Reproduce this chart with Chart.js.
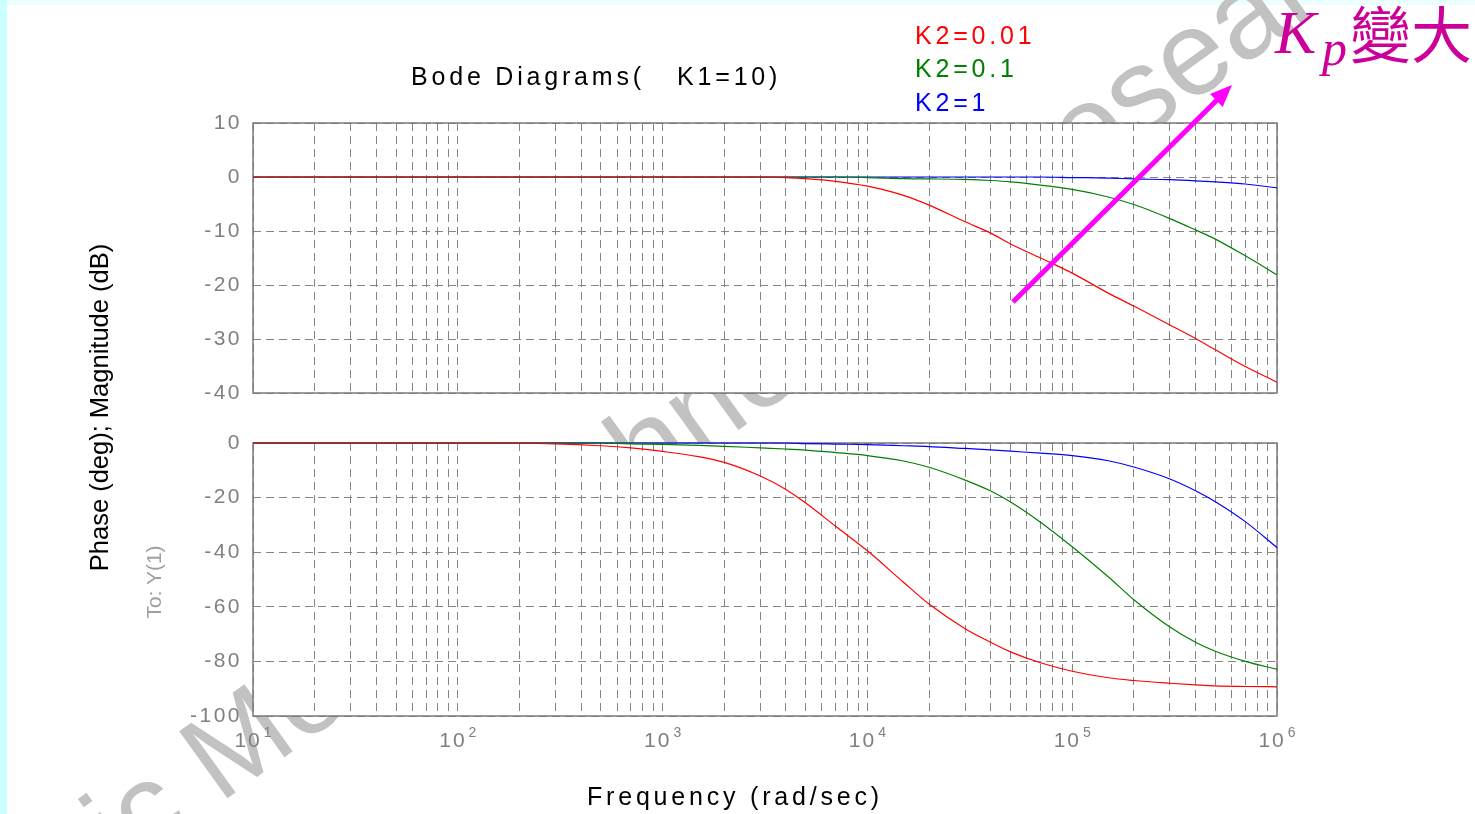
<!DOCTYPE html>
<html><head><meta charset="utf-8">
<script src="https://cdn.jsdelivr.net/npm/chart.js@4.4.0/dist/chart.umd.min.js"></script>
<style>
html,body{margin:0;padding:0;background:#fff;}
#wrap{position:relative;width:1475px;height:814px;overflow:hidden;background:#fff;}
#leftStrip{position:absolute;left:0;top:0;width:7px;height:814px;background:#ccffff;}
#topStrip{position:absolute;left:0;top:0;width:1475px;height:5px;background:#ebffff;}
svg,canvas{position:absolute;}
</style></head><body>
<div id="wrap">
  <div id="topStrip"></div><div id="leftStrip"></div>
  <svg id="wm" width="1475" height="814" style="left:0;top:0">
    <text id="wmText" font-family="Liberation Sans, Arial, sans-serif" font-size="120" fill="#c2c2c2">Electric Motor Technology Research</text>
  </svg>
  <canvas id="mag" width="1475" height="430" style="left:0;top:0"></canvas>
  <canvas id="phase" width="1475" height="404" style="left:0;top:410px"></canvas>
  <svg id="ann" width="1475" height="814" style="left:0;top:0">
    <g font-family="Liberation Sans, Arial, sans-serif" font-size="25" letter-spacing="3.8">
      <text x="411" y="85" fill="#000" xml:space="preserve">Bode Diagrams(   K1=10)</text>
      <text x="915" y="43.5" fill="#ff0000">K2=0.01</text>
      <text x="915" y="77" fill="#008000">K2=0.1</text>
      <text x="915" y="111" fill="#0000ff">K2=1</text>
      <text x="587" y="805" fill="#000">Frequency (rad/sec)</text>
    </g>
    <text x="107.5" y="407.5" transform="rotate(-90 107.5 407.5)" text-anchor="middle" font-family="Liberation Sans, Arial, sans-serif" font-size="25.5" fill="#000">Phase (deg); Magnitude (dB)</text>
    <text x="160.5" y="582" transform="rotate(-90 160.5 582)" text-anchor="middle" font-family="Liberation Sans, Arial, sans-serif" font-size="21" fill="#a0a0a0">To: Y(1)</text>
    <line x1="1013" y1="302" x2="1218" y2="99" stroke="#ff00ff" stroke-width="5"/>
    <polygon points="1232,85 1222.7,106.9 1210.1,94.1" fill="#ff00ff"/>
    <text x="1275" y="53" font-family="Liberation Serif, Times New Roman, serif" font-style="italic" font-size="62" fill="#cc0099">K</text>
    <text x="1322" y="65" font-family="Liberation Serif, Times New Roman, serif" font-style="italic" font-size="50" fill="#cc0099">p</text>
    <text x="1350" y="58" font-family="Noto Sans CJK TC, Noto Sans CJK SC, sans-serif" font-size="61" fill="#cc0099">變大</text>
  </svg>
</div>
<script>
// ---- data ----
const freqs      = [10, 100, 300, 500, 700, 1000, 1500, 2000, 3000, 4000, 5000, 7000, 1e4, 1.5e4, 2e4, 3e4, 4e4, 5e4, 7e4, 1e5, 1.5e5, 2e5, 3e5, 4e5, 5e5, 7e5, 1e6];
const magK2_001  = [0, 0, 0, 0, 0, 0, 0, 0, 0, -0.1, -0.3, -0.8, -1.7, -3.4, -5.2, -8.3, -10.4, -12.4, -15.0, -17.8, -21.5, -23.9, -27.4, -29.9, -32.0, -35.1, -38.0];
const magK2_01   = [0, 0, 0, 0, 0, 0, 0, 0, 0, 0, 0, 0, -0.1, -0.3, -0.35, -0.45, -0.65, -0.9, -1.5, -2.3, -3.7, -5.1, -7.7, -9.8, -11.5, -14.6, -18.1];
const magK2_1    = [0, 0, 0, 0, 0, 0, 0, 0, 0, 0, 0, 0, 0, 0, 0, 0, 0, 0, 0, -0.1, -0.2, -0.35, -0.5, -0.7, -0.9, -1.3, -2.0];
const phK2_001   = [0, 0, -0.3, -1.0, -1.8, -3.1, -5.0, -7.1, -12.1, -17.0, -22.0, -30.5, -39.5, -51.0, -59.0, -68.0, -73.0, -76.5, -80.5, -83.6, -86.0, -87.0, -88.0, -88.6, -89.0, -89.2, -89.3];
const phK2_01    = [0, 0, 0, 0, -0.3, -0.5, -0.9, -1.2, -1.8, -2.2, -2.6, -3.5, -4.6, -6.6, -8.9, -13.6, -17.6, -21.6, -29.0, -38.0, -49.0, -57.4, -67.4, -73.0, -76.3, -80.0, -82.9];
const phK2_1     = [0, 0, 0, 0, 0, 0, 0, 0, 0, 0, -0.2, -0.4, -0.6, -1.0, -1.3, -2.0, -2.5, -3.0, -3.7, -4.6, -6.5, -8.8, -13.2, -17.5, -21.5, -28.8, -38.3];
const seriesNames  = ['K2=0.01', 'K2=0.1', 'K2=1'];
const seriesColors = ['#ff0000', '#008000', '#0000ff'];
const magTicks   = [10, 0, -10, -20, -30, -40];
const phaseTicks = [0, -20, -40, -60, -80, -100];
const xTickExps  = [1, 2, 3, 4, 5, 6];
const xGridMult  = [1, 2, 3, 4, 5, 6, 7, 8, 9];

// ---- watermark placement ----
(function(){
  const F = 120, deg = -35.8, a = deg * Math.PI / 180;
  const mc = document.createElement('canvas').getContext('2d');
  mc.font = F + 'px "Liberation Sans"';
  const d = mc.measureText('Electric ').width + mc.measureText('M').width / 2;
  const lx = d, ly = -0.358 * F;
  const rx = lx * Math.cos(a) - ly * Math.sin(a);
  const ry = lx * Math.sin(a) + ly * Math.cos(a);
  const X = 235 - rx, Y = 740 - ry;
  const t = document.getElementById('wmText');
  t.setAttribute('x', X); t.setAttribute('y', Y);
  t.setAttribute('transform', `rotate(${deg} ${X} ${Y})`);
})();

function gridTicks() {
  const out = [];
  for (let e = 1; e <= 5; e++) for (const m of xGridMult) out.push({value: m * Math.pow(10, e)});
  out.push({value: 1e6});
  return out;
}
const mk = (vals) => freqs.map((f, i) => ({x: f, y: vals[i]}));

const GRID = '#858585';
const frame = {
  id: 'frame',
  beforeDraw(chart) {
    const {ctx, chartArea: c} = chart;
    ctx.save(); ctx.fillStyle = '#fff'; ctx.fillRect(c.left, c.top, c.width, c.height); ctx.restore();
    ctx.letterSpacing = '2.5px';
  },
  beforeDatasetsDraw(chart) {
    const {ctx, chartArea: c} = chart;
    ctx.save(); ctx.letterSpacing = '0px';
    ctx.strokeStyle = '#7a7a7a'; ctx.lineWidth = 1.5; ctx.setLineDash([]);
    ctx.strokeRect(c.left, c.top, c.width, c.height);
    ctx.restore();
  }
};
const xLabels = {
  id: 'xLabels',
  afterDraw(chart) {
    if (!chart.options.plugins.xLabels || !chart.options.plugins.xLabels.show) return;
    const {ctx} = chart; const xs = chart.scales.x;
    const base = chart.chartArea.bottom + 31;
    ctx.save(); ctx.fillStyle = '#808080'; ctx.textBaseline = 'alphabetic'; ctx.textAlign = 'left';
    for (const e of xTickExps) {
      const px = xs.getPixelForValue(Math.pow(10, e));
      ctx.font = '21px "Liberation Sans", Arial'; ctx.letterSpacing = '2px';
      const w1 = ctx.measureText('10').width;
      ctx.font = '14px "Liberation Sans", Arial'; ctx.letterSpacing = '0px';
      const w2 = ctx.measureText(String(e)).width;
      const gap = 2; const x0 = px - (w1 + gap + w2) / 2;
      ctx.font = '21px "Liberation Sans", Arial'; ctx.letterSpacing = '2px';
      ctx.fillText('10', x0, base);
      ctx.font = '14px "Liberation Sans", Arial'; ctx.letterSpacing = '0px';
      ctx.fillText(String(e), x0 + w1 + gap, base - 10);
    }
    ctx.restore();
  }
};

function makeChart(id, sets, ymin, ymax, ticksArr, pad, showX) {
  return new Chart(document.getElementById(id), {
    type: 'line',
    data: {
      datasets: sets.map((v, i) => ({
        label: seriesNames[i], data: mk(v), borderColor: seriesColors[i], borderWidth: 1.2,
        pointRadius: 0, cubicInterpolationMode: 'monotone', fill: false, order: i, clip: 3
      }))
    },
    options: {
      responsive: false, animation: false, devicePixelRatio: 1,
      layout: {padding: pad},
      plugins: {legend: {display: false}, tooltip: {enabled: false}, title: {display: false}, xLabels: {show: showX}},
      scales: {
        x: {
          type: 'logarithmic', min: 10, max: 1e6,
          afterBuildTicks: (s) => { s.ticks = gridTicks(); },
          afterFit: (s) => { s.height = 0; },
          ticks: {display: false},
          grid: {color: GRID, lineWidth: 1, drawTicks: false},
          border: {display: false, dash: [8, 5]}
        },
        y: {
          min: ymin, max: ymax,
          afterBuildTicks: (s) => { s.ticks = ticksArr.map(v => ({value: v})); },
          afterFit: (s) => { s.width = 103; },
          ticks: {color: '#808080', font: {family: '"Liberation Sans", Arial', size: 21}, padding: 11},
          grid: {color: GRID, lineWidth: 1, drawTicks: false},
          border: {display: false, dash: [8, 5]}
        }
      }
    },
    plugins: [frame, xLabels]
  });
}

makeChart('mag', [magK2_001, magK2_01, magK2_1], -40, 10, magTicks, {left: 150, right: 198, top: 123, bottom: 37}, false);
makeChart('phase', [phK2_001, phK2_01, phK2_1], -100, 0, phaseTicks, {left: 150, right: 198, top: 33, bottom: 98}, true);
</script>
</body></html>
